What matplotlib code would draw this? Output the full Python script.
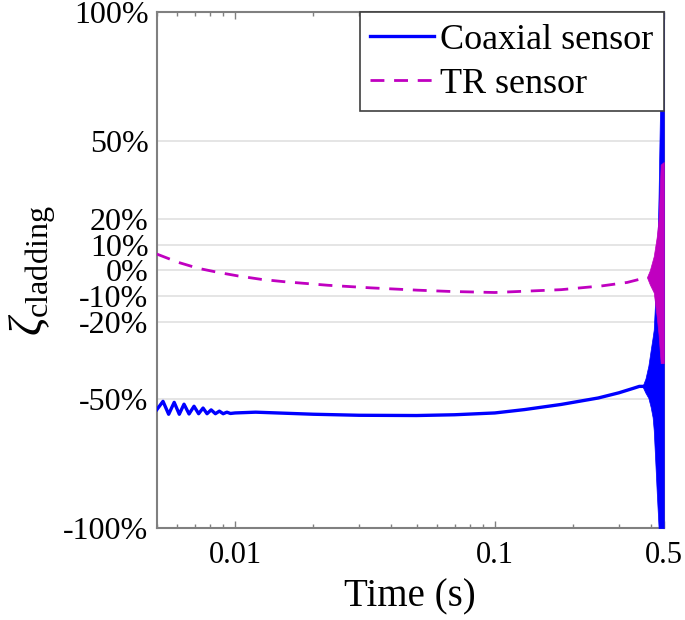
import matplotlib
matplotlib.use('Agg')
import matplotlib.pyplot as plt

# coaxial sensor (blue, solid), % values
coax_t = [0.0050, 0.00528, 0.00555, 0.00583, 0.0061, 0.00636, 0.00665, 0.00695,
          0.00724, 0.00753, 0.0078, 0.00809, 0.0084, 0.0087, 0.009, 0.0093,
          0.0096, 0.010, 0.012, 0.02, 0.03, 0.05, 0.07, 0.1, 0.13, 0.18,
          0.25, 0.30, 0.34, 0.36, 0.37]
coax_v = [-54.0, -50.8, -55.8, -51.2, -55.8, -51.9, -55.7, -52.7,
          -55.6, -53.4, -55.6, -54.1, -55.6, -54.6, -55.6, -55.0,
          -55.5, -55.3, -55.0, -55.8, -56.2, -56.3, -56.0, -55.3, -54.0, -52.0,
          -49.5, -47.5, -45.8, -45.0, -45.0]
# oscillation envelope near the end
coax_env_t = [0.370, 0.380, 0.390, 0.398, 0.405, 0.409, 0.415, 0.420, 0.425,
              0.427, 0.432, 0.436, 0.447]
coax_env_lo = [-45.0, -47.5, -49.5, -53, -57, -62, -75, -86, -96,
               -100, -100, -100, -100]
coax_env_hi = [-45.0, -42, -37, -31, -26, -23, -10, 3, 20,
               30, 60, 100, 100]

# TR sensor (magenta, dashed)
tr_t = [0.0050, 0.00604, 0.0072, 0.0086, 0.0103, 0.0126, 0.0154, 0.0228, 0.0333,
        0.0505, 0.0676, 0.1, 0.18, 0.26, 0.323, 0.36, 0.385]
tr_v = [6.3, 3.1, 0.8, -0.8, -2.2, -3.5, -4.4, -5.8, -6.8,
        -7.7, -8.2, -8.6, -7.5, -6.0, -4.7, -3.5, -2.7]
tr_env_t = [0.385, 0.395, 0.409, 0.420, 0.427, 0.435, 0.447]
tr_env_lo = [-2.7, -5.5, -8.6, -18, -25, -36, -36]
tr_env_hi = [-2.7, 0.0, 5.5, 13, 20, 41, 42]

yticks = [-100, -50, -20, -10, 0, 10, 20, 50, 100]
ytick_labels = ['-100%', '-50%', '-20%', '-10%', '0%', '10%', '20%', '50%', '100%']
xticks = [0.01, 0.1, 0.447]
xtick_labels = ['0.01', '0.1', '0.5']

plt.rcParams['font.family'] = ['Liberation Serif', 'DejaVu Serif']
plt.rcParams['mathtext.fontset'] = 'custom'
plt.rcParams['mathtext.rm'] = 'Liberation Serif'
plt.rcParams['mathtext.it'] = 'Liberation Serif:italic'

fig = plt.figure(figsize=(6.85, 6.2), dpi=100)
ax = fig.add_axes([0.229, 0.148, 0.740, 0.832])

blue = '#0000ff'
mag = '#c000c0'

ax.plot(coax_t, coax_v, color=blue, lw=2.4, label='Coaxial sensor', zorder=3)
ax.fill_between(coax_env_t, coax_env_lo, coax_env_hi, color=blue, lw=0.5,
                edgecolor=blue, zorder=3)
ax.plot(tr_t, tr_v, color=mag, lw=2.0, ls=(0, (5, 3.5)), label='TR sensor', zorder=4)
ax.fill_between(tr_env_t, tr_env_lo, tr_env_hi, color=mag, lw=0.5,
                edgecolor=mag, zorder=4)

ax.set_xscale('log')
ax.set_xlim(0.005, 0.447)
ax.set_ylim(-100, 100)
ax.set_xticks(xticks)
ax.set_xticklabels(xtick_labels)
ax.set_yticks(yticks)
ax.set_yticklabels(ytick_labels)

ax.grid(axis='y', color='#e3e3e3', lw=1.3, zorder=0)
for s in ax.spines.values():
    s.set_color('#808080')
    s.set_linewidth(1.5)
ax.tick_params(which='both', direction='in', colors='#808080', labelcolor='black',
               labelsize=23, top=True, right=True)
ax.tick_params(which='major', length=5, width=1)
ax.tick_params(which='minor', length=3, width=1)
ax.tick_params(axis='x', pad=9, labelsize=22)
ax.tick_params(axis='y', pad=6, length=0)

ax.set_xlabel('Time (s)', fontsize=28, labelpad=6)
ax.set_ylabel(r'$\zeta_{\mathrm{cladding}}$', fontsize=33, labelpad=4)

leg = ax.legend(loc='upper right', fontsize=26, borderaxespad=0, fancybox=False,
                framealpha=1, edgecolor='#404040', handlelength=1.75,
                handletextpad=0.17, borderpad=0.3, labelspacing=0.3)
leg.get_frame().set_linewidth(1.2)

plt.savefig('out.png', dpi=100)
